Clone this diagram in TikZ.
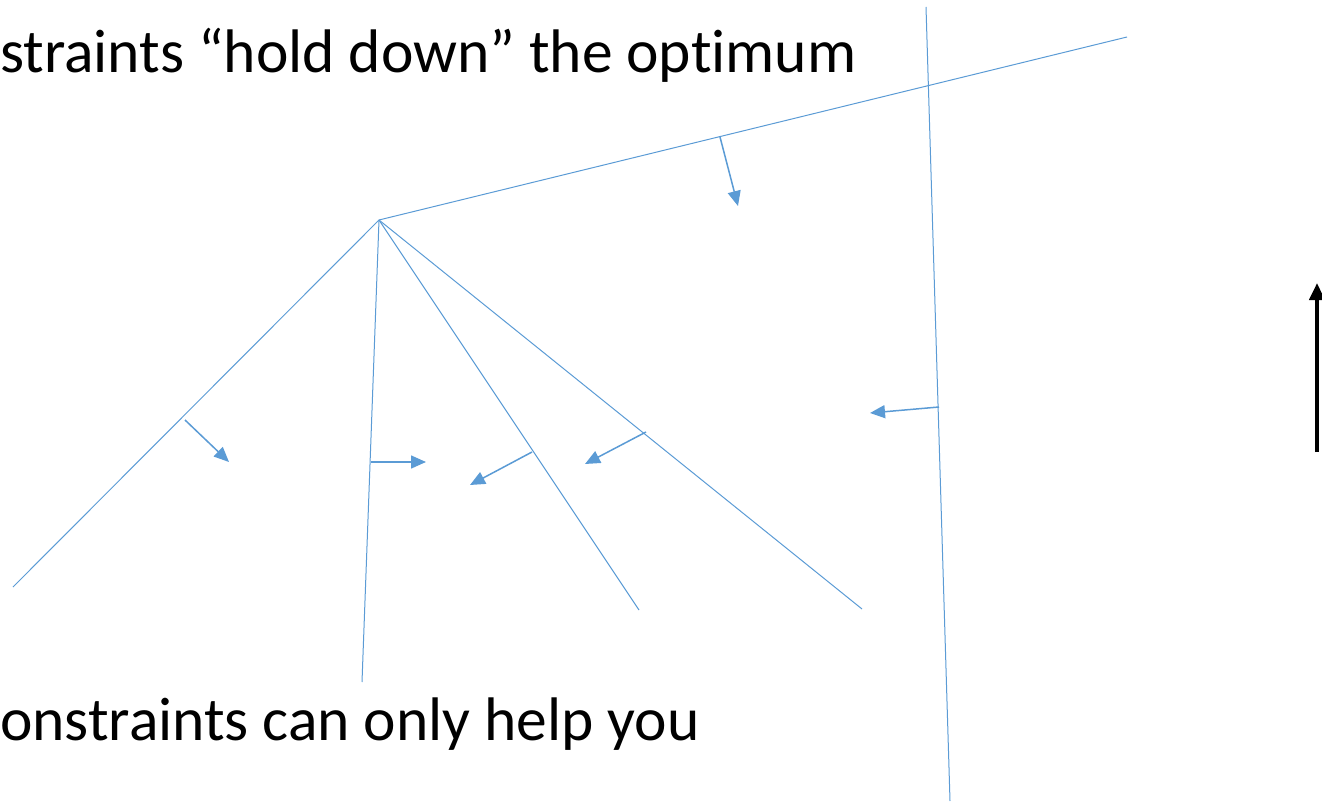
\documentclass[tikz,border=0pt]{standalone}
\usepackage{fontspec}
\setmainfont[Ligatures={NoCommon}]{Carlito}
\usetikzlibrary{arrows.meta}
\definecolor{lineblue}{RGB}{91,155,213}
\tikzset{
  cline/.style={draw=lineblue, line width=1pt},
  carrow/.style={draw=lineblue, line width=1.5pt, -{Triangle[length=15pt,width=13pt]}, fill=lineblue},
  bigarrow/.style={draw=black, line width=4pt, -{Triangle[length=17pt,width=15pt]}},
  caption/.style={anchor=base west, inner sep=0pt, font=\fontsize{61.5}{72}\selectfont}
}
\begin{document}
\begin{tikzpicture}[x=1pt,y=-1pt]
\useasboundingbox (0,0) rectangle (1322,802);
% constraint lines
\coordinate (A) at (379,220);
\coordinate (e1) at (13,587);
\coordinate (e2) at (362,682);
\coordinate (e3) at (639,610);
\coordinate (e4) at (862,609);
\coordinate (e5) at (1127,37);
\coordinate (vt) at (926,7);
\coordinate (vb) at (950,801);
\draw[cline] (A) -- (e1);
\draw[cline] (A) -- (e2);
\draw[cline] (A) -- (e3);
\draw[cline] (A) -- (e4);
\draw[cline] (A) -- (e5);
\draw[cline] (vt) -- (vb);
% direction arrows
\coordinate (s1) at (185,420); \coordinate (t1) at (229,462);
\coordinate (s2) at (371,462); \coordinate (t2) at (426,462);
\coordinate (s3) at (532,452); \coordinate (t3) at (470,485);
\coordinate (s4) at (646,432); \coordinate (t4) at (585,464);
\coordinate (s5) at (720,137); \coordinate (t5) at (738,206);
\coordinate (s6) at (939,407); \coordinate (t6) at (870,413);
\draw[carrow] (s1) -- (t1);
\draw[carrow] (s2) -- (t2);
\draw[carrow] (s3) -- (t3);
\draw[carrow] (s4) -- (t4);
\draw[carrow] (s5) -- (t5);
\draw[carrow] (s6) -- (t6);
% objective arrow
\coordinate (ob) at (1317,452);
\coordinate (ot) at (1317,283);
\draw[bigarrow] (ob) -- (ot);
% texts
\node[caption] (top) at (0,73) {straints “hold down” the optimum};
\node[caption] (bot) at (0,740) {onstraints can only help you};
\end{tikzpicture}
\end{document}
